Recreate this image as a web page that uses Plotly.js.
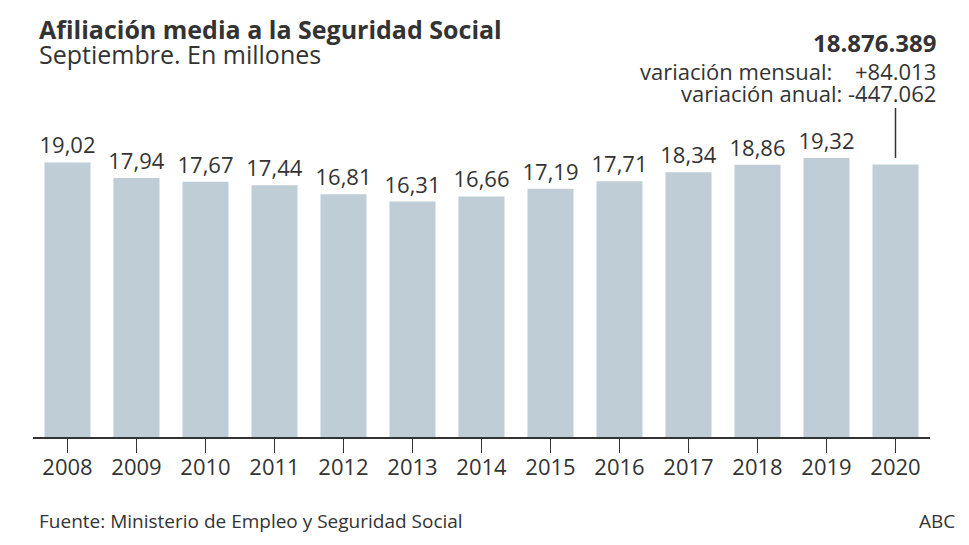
<!DOCTYPE html>
<html>
<head>
<meta charset="utf-8">
<script src="https://cdn.plot.ly/plotly-3.0.1.min.js"></script>
<style>html,body{margin:0;padding:0;background:#fff;}#chart{width:969px;height:545px;}</style>
</head>
<body>
<div id="chart"></div>
<script>
const years = ['2008','2009','2010','2011','2012','2013','2014','2015','2016','2017','2018','2019','2020'];
const values = [19.02, 17.94, 17.67, 17.44, 16.81, 16.31, 16.66, 17.19, 17.71, 18.34, 18.86, 19.32, 18.876389];
const valueLabels = ['19,02','17,94','17,67','17,44','16,81','16,31','16,66','17,19','17,71','18,34','18,86','19,32',''];
const titleText = 'Afiliación media a la Seguridad Social';
const subtitleText = 'Septiembre. En millones';
const totalText = '18.876.389';
const monthlyLabel = 'variación mensual:';
const monthlyValue = '+84.013';
const annualText = 'variación anual: -447.062';
const sourceText = 'Fuente: Ministerio de Empleo y Seguridad Social';
const creditText = 'ABC';

const dark = '#333333';
const font = 'Open Sans, sans-serif';
const py = p => (437.5 - p) / 337.5;
const px = p => (p - 33) / 897;

const trace = {
  type: 'bar',
  x: years,
  y: values,
  text: valueLabels,
  textposition: 'outside',
  constraintext: 'none',
  cliponaxis: false,
  textfont: {family: font, size: 22, color: dark},
  marker: {color: '#bfcdd6'},
  hoverinfo: 'none'
};

const layout = {
  width: 969, height: 545,
  margin: {l: 33, r: 39, t: 100, b: 107.5},
  paper_bgcolor: '#fff', plot_bgcolor: '#fff',
  bargap: 0.333,
  showlegend: false,
  font: {family: font, color: dark},
  xaxis: {
    type: 'category',
    range: [-0.5, 12.5],
    showline: true, linecolor: dark, linewidth: 1.5,
    ticks: 'outside', ticklen: 14, tickwidth: 1.5, tickcolor: dark,
    ticklabelstandoff: -4,
    tickfont: {family: font, size: 22, color: dark},
    showgrid: false, zeroline: false, fixedrange: true
  },
  yaxis: {
    range: [0, 23.34],
    visible: false, showgrid: false, zeroline: false, fixedrange: true
  },
  shapes: [{
    type: 'line', xref: 'x', yref: 'paper',
    x0: 12, x1: 12, y0: py(158), y1: py(108),
    line: {color: dark, width: 1.5}
  }],
  annotations: [
    {text: '<b>' + titleText + '</b>', xref: 'paper', yref: 'paper', x: px(37), y: py(29), xanchor: 'left', yanchor: 'middle', showarrow: false, font: {family: font, size: 25, color: dark}},
    {text: subtitleText, xref: 'paper', yref: 'paper', x: px(37), y: py(54), xanchor: 'left', yanchor: 'middle', showarrow: false, font: {family: font, size: 25, color: dark}},
    {text: '<b>' + totalText + '</b>', xref: 'paper', yref: 'paper', x: px(938), y: py(42), xanchor: 'right', yanchor: 'middle', showarrow: false, font: {family: font, size: 24, color: dark}},
    {text: monthlyLabel, xref: 'paper', yref: 'paper', x: px(834), y: py(71), xanchor: 'right', yanchor: 'middle', showarrow: false, font: {family: font, size: 22, color: dark}},
    {text: monthlyValue, xref: 'paper', yref: 'paper', x: px(938), y: py(71), xanchor: 'right', yanchor: 'middle', showarrow: false, font: {family: font, size: 22, color: dark}},
    {text: annualText, xref: 'paper', yref: 'paper', x: px(938), y: py(93), xanchor: 'right', yanchor: 'middle', showarrow: false, font: {family: font, size: 22, color: dark}},
    {text: sourceText, xref: 'paper', yref: 'paper', x: px(37), y: py(522), xanchor: 'left', yanchor: 'middle', showarrow: false, font: {family: font, size: 19, color: dark}},
    {text: creditText, xref: 'paper', yref: 'paper', x: px(957), y: py(522), xanchor: 'right', yanchor: 'middle', showarrow: false, font: {family: font, size: 19, color: dark}}
  ]
};

Plotly.newPlot('chart', [trace], layout, {displayModeBar: false, staticPlot: true});
</script>
</body>
</html>
